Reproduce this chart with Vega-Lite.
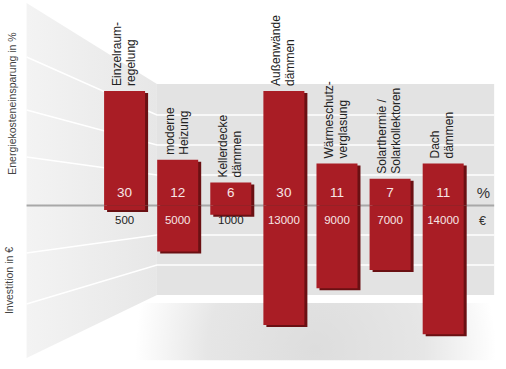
{
  "$schema": "https://vega.github.io/schema/vega-lite/v6.json",
  "width": 506,
  "height": 369,
  "padding": 0,
  "autosize": {"type": "none"},
  "background": "#ffffff",
  "config": {
    "view": {"stroke": null},
    "font": "Liberation Sans",
    "axis": {"labels": false, "ticks": false, "domain": false, "grid": false, "titleFontWeight": "normal", "titleColor": "#444444", "titleFont": "Liberation Sans", "titleFontSize": 10.5, "titleAngle": 270, "titleAlign": "center", "titleBaseline": "middle"}
  },
  "datasets": {
    "massnahmen": [
      {"nr": 1, "massnahme": "Einzelraum-\nregelung", "ersparnis": 30, "invest": 500},
      {"nr": 2, "massnahme": "moderne\nHeizung", "ersparnis": 12, "invest": 5000},
      {"nr": 3, "massnahme": "Kellerdecke\ndämmen", "ersparnis": 6, "invest": 1000},
      {"nr": 4, "massnahme": "Außenwände\ndämmen", "ersparnis": 30, "invest": 13000},
      {"nr": 5, "massnahme": "Wärmeschutz-\nverglasung", "ersparnis": 11, "invest": 9000},
      {"nr": 6, "massnahme": "Solarthermie /\nSolarkollektoren", "ersparnis": 7, "invest": 7000},
      {"nr": 7, "massnahme": "Dach\ndämmen", "ersparnis": 11, "invest": 14000}
    ]
  },
  "resolve": {"scale": {"y": "independent"}, "axis": {"y": "independent"}},
  "layer": [
    {
      "layer": [
        {
          "data": {"values": [{"x": 1.2, "x2": 8.0, "oben": -25.5, "unten": -40.5}]},
          "mark": {"type": "rect", "color": {"gradient": "radial", "x1": 0.5, "y1": 0.55, "r1": 0, "x2": 0.5, "y2": 0.55, "r2": 0.5, "stops": [{"offset": 0, "color": "#dddddd"}, {"offset": 0.6, "color": "#e6e6e6"}, {"offset": 1, "color": "#ffffff"}]}},
          "encoding": {
            "x": {"field": "x", "type": "quantitative", "scale": {"domain": [-1.2522, 8.0888], "nice": false, "zero": false}, "axis": null},
            "x2": {"field": "x2"},
            "y": {"field": "oben", "type": "quantitative", "scale": {"domain": [-42.8, 53.8], "nice": false, "zero": false},
              "axis": {"orient": "left", "title": "Energiekosteneinsparung in %", "titleX": 12, "titleY": 103}},
            "y2": {"field": "unten"}
          }
        },
        {
          "data": {"values": [{"x": 1.609, "x2": 7.96, "oben": 31.81, "unten": -23.43}]},
          "mark": {"type": "rect", "color": "#e3e3e3"},
          "encoding": {
            "x": {"field": "x", "type": "quantitative", "scale": {"domain": [-1.2522, 8.0888], "nice": false, "zero": false}, "axis": null},
            "x2": {"field": "x2"},
            "y": {"field": "oben", "type": "quantitative", "scale": {"domain": [-42.8, 53.8], "nice": false, "zero": false},
              "axis": {"orient": "left", "title": "Energiekosteneinsparung in %", "titleX": 12, "titleY": 103}},
            "y2": {"field": "unten"}
          }
        },
        {
          "data": {"values": [
            {"x": -0.846, "oben": 53.01, "unten": -39.92},
            {"x": 1.609, "oben": 31.81, "unten": -23.43}
          ]},
          "mark": {"type": "area", "color": {"gradient": "linear", "x1": 0, "y1": 0, "x2": 1, "y2": 0, "stops": [{"offset": 0, "color": "#f3f3f3"}, {"offset": 1, "color": "#e7e7e7"}]}},
          "encoding": {
            "x": {"field": "x", "type": "quantitative", "scale": {"domain": [-1.2522, 8.0888], "nice": false, "zero": false}, "axis": null},
            "y": {"field": "oben", "type": "quantitative", "scale": {"domain": [-42.8, 53.8], "nice": false, "zero": false},
              "axis": {"orient": "left", "title": "Energiekosteneinsparung in %", "titleX": 12, "titleY": 103}},
            "y2": {"field": "unten"}
          }
        },
        {
          "data": {"values": [
            {"linie": 1, "x": -0.846, "y": 38.87}, {"linie": 1, "x": 1.609, "y": 23.69}, {"linie": 1, "x": 7.96, "y": 23.69},
            {"linie": 2, "x": -0.846, "y": 25.0}, {"linie": 2, "x": 1.609, "y": 15.84}, {"linie": 2, "x": 7.96, "y": 15.84},
            {"linie": 3, "x": -0.846, "y": 12.7}, {"linie": 3, "x": 1.609, "y": 7.98}, {"linie": 3, "x": 7.96, "y": 7.98},
            {"linie": 4, "x": -0.846, "y": -12.43}, {"linie": 4, "x": 1.609, "y": -7.72}, {"linie": 4, "x": 7.96, "y": -7.72},
            {"linie": 5, "x": -0.846, "y": -25.79}, {"linie": 5, "x": 1.609, "y": -15.58}, {"linie": 5, "x": 7.96, "y": -15.58}
          ]},
          "mark": {"type": "line", "color": "#ffffff", "strokeWidth": 1.5},
          "encoding": {
            "x": {"field": "x", "type": "quantitative", "scale": {"domain": [-1.2522, 8.0888], "nice": false, "zero": false}, "axis": null},
            "y": {"field": "y", "type": "quantitative", "scale": {"domain": [-42.8, 53.8], "nice": false, "zero": false},
              "axis": {"orient": "left", "title": "Energiekosteneinsparung in %", "titleX": 12, "titleY": 103}},
            "detail": {"field": "linie"},
            "order": {"field": "x"}
          }
        },
        {
          "data": {"values": [{"x": -0.846, "x2": 7.96, "y": 0}]},
          "mark": {"type": "rule", "color": "#a8a8a8", "strokeWidth": 2},
          "encoding": {
            "x": {"field": "x", "type": "quantitative", "scale": {"domain": [-1.2522, 8.0888], "nice": false, "zero": false}, "axis": null},
            "x2": {"field": "x2"},
            "y": {"field": "y", "type": "quantitative", "scale": {"domain": [-42.8, 53.8], "nice": false, "zero": false},
              "axis": {"orient": "left", "title": "Energiekosteneinsparung in %", "titleX": 12, "titleY": 103}}
          }
        },
        {
          "data": {"name": "massnahmen"},
          "mark": {"type": "bar", "width": 41, "color": "#6a1013", "xOffset": 3, "yOffset": 2},
          "encoding": {
            "x": {"field": "nr", "type": "quantitative", "scale": {"domain": [-1.2522, 8.0888], "nice": false, "zero": false}, "axis": null},
            "y": {"field": "ersparnis", "type": "quantitative", "scale": {"domain": [-42.8, 53.8], "nice": false, "zero": false},
              "axis": {"orient": "left", "title": "Energiekosteneinsparung in %", "titleX": 12, "titleY": 103}},
            "y2": {"datum": 0}
          }
        },
        {
          "data": {"name": "massnahmen"},
          "mark": {"type": "bar", "width": 41, "color": "#a91d25"},
          "encoding": {
            "x": {"field": "nr", "type": "quantitative", "scale": {"domain": [-1.2522, 8.0888], "nice": false, "zero": false}, "axis": null},
            "y": {"field": "ersparnis", "type": "quantitative", "scale": {"domain": [-42.8, 53.8], "nice": false, "zero": false},
              "axis": {"orient": "left", "title": "Energiekosteneinsparung in %", "titleX": 12, "titleY": 103}},
            "y2": {"datum": 0}
          }
        },
        {
          "data": {"name": "massnahmen"},
          "mark": {"type": "text", "fontSize": 13.5, "color": "#f7e6e6", "align": "center", "baseline": "middle", "dy": -12.5},
          "encoding": {
            "x": {"field": "nr", "type": "quantitative", "scale": {"domain": [-1.2522, 8.0888], "nice": false, "zero": false}, "axis": null},
            "y": {"datum": 0, "type": "quantitative", "scale": {"domain": [-42.8, 53.8], "nice": false, "zero": false},
              "axis": {"orient": "left", "title": "Energiekosteneinsparung in %", "titleX": 12, "titleY": 103}},
            "text": {"field": "ersparnis", "type": "quantitative", "format": "d"}
          }
        },
        {
          "data": {"name": "massnahmen"},
          "mark": {"type": "text", "fontSize": 12, "lineHeight": 14, "color": "#222222", "angle": 270, "align": "left", "baseline": "middle", "dx": 5, "dy": -8, "lineBreak": "\n"},
          "encoding": {
            "x": {"field": "nr", "type": "quantitative", "scale": {"domain": [-1.2522, 8.0888], "nice": false, "zero": false}, "axis": null},
            "y": {"field": "ersparnis", "type": "quantitative", "scale": {"domain": [-42.8, 53.8], "nice": false, "zero": false},
              "axis": {"orient": "left", "title": "Energiekosteneinsparung in %", "titleX": 12, "titleY": 103}},
            "text": {"field": "massnahme", "type": "nominal"}
          }
        },
        {
          "data": {"values": [{"einheit": "%", "x": 7.757}]},
          "mark": {"type": "text", "fontSize": 15, "color": "#333333", "align": "center", "baseline": "middle", "dy": -12.5},
          "encoding": {
            "x": {"field": "x", "type": "quantitative", "scale": {"domain": [-1.2522, 8.0888], "nice": false, "zero": false}, "axis": null},
            "y": {"datum": 0, "type": "quantitative", "scale": {"domain": [-42.8, 53.8], "nice": false, "zero": false},
              "axis": {"orient": "left", "title": "Energiekosteneinsparung in %", "titleX": 12, "titleY": 103}},
            "text": {"field": "einheit", "type": "nominal"}
          }
        }
      ]
    },
    {
      "layer": [
        {
          "data": {"name": "massnahmen"},
          "mark": {"type": "bar", "width": 41, "color": "#6a1013", "xOffset": 3, "yOffset": 2},
          "encoding": {
            "x": {"field": "nr", "type": "quantitative", "scale": {"domain": [-1.2522, 8.0888], "nice": false, "zero": false}, "axis": null},
            "y": {"field": "invest", "type": "quantitative", "scale": {"domain": [-22337, 17772], "nice": false, "zero": false, "reverse": true},
              "axis": {"orient": "right", "title": "Investition in €", "titleX": -497, "titleY": 280}},
            "y2": {"datum": 0}
          }
        },
        {
          "data": {"name": "massnahmen"},
          "mark": {"type": "bar", "width": 41, "color": "#a91d25"},
          "encoding": {
            "x": {"field": "nr", "type": "quantitative", "scale": {"domain": [-1.2522, 8.0888], "nice": false, "zero": false}, "axis": null},
            "y": {"field": "invest", "type": "quantitative", "scale": {"domain": [-22337, 17772], "nice": false, "zero": false, "reverse": true},
              "axis": {"orient": "right", "title": "Investition in €", "titleX": -497, "titleY": 280}},
            "y2": {"datum": 0}
          }
        },
        {
          "data": {"name": "massnahmen"},
          "mark": {"type": "text", "fontSize": 11.5, "align": "center", "baseline": "middle", "dy": 16},
          "encoding": {
            "x": {"field": "nr", "type": "quantitative", "scale": {"domain": [-1.2522, 8.0888], "nice": false, "zero": false}, "axis": null},
            "y": {"datum": 0, "type": "quantitative", "scale": {"domain": [-22337, 17772], "nice": false, "zero": false, "reverse": true},
              "axis": {"orient": "right", "title": "Investition in €", "titleX": -497, "titleY": 280}},
            "text": {"field": "invest", "type": "quantitative", "format": "d"},
            "color": {"condition": {"test": "datum.invest >= 3000", "value": "#f7e6e6"}, "value": "#222222"}
          }
        },
        {
          "data": {"values": [{"einheit": "€", "x": 7.738}]},
          "mark": {"type": "text", "fontSize": 12.5, "color": "#333333", "align": "center", "baseline": "middle", "dy": 16},
          "encoding": {
            "x": {"field": "x", "type": "quantitative", "scale": {"domain": [-1.2522, 8.0888], "nice": false, "zero": false}, "axis": null},
            "y": {"datum": 0, "type": "quantitative", "scale": {"domain": [-22337, 17772], "nice": false, "zero": false, "reverse": true},
              "axis": {"orient": "right", "title": "Investition in €", "titleX": -497, "titleY": 280}},
            "text": {"field": "einheit", "type": "nominal"}
          }
        }
      ]
    }
  ]
}
